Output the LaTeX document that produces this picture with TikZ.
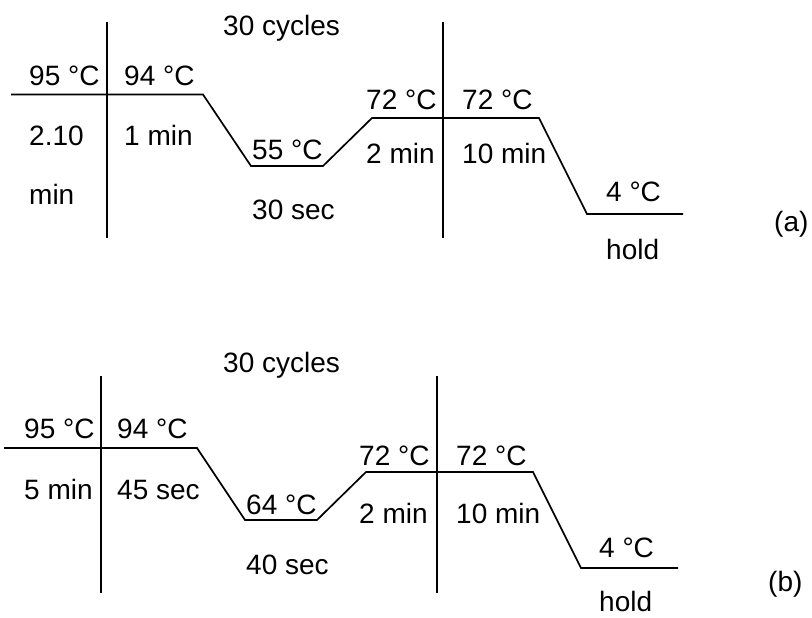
\documentclass[tikz,border=0pt]{standalone}
\usepackage{fontspec}
\setmainfont{Liberation Sans}
\begin{document}
\begin{tikzpicture}[x=1pt,y=-1pt,
  lbl/.style={inner sep=0pt,anchor=base west,font=\fontsize{28}{31}\selectfont},
  prof/.style={line width=1.7pt,line join=miter},
  sep/.style={line width=1.7pt}]
\useasboundingbox (0,0) rectangle (812,618);
% ---------- (a) ----------
\coordinate (a0) at (11,94.5);
\coordinate (a1) at (203,94.5);
\coordinate (a2) at (251,166);
\coordinate (a3) at (323,166);
\coordinate (a4) at (372,118);
\coordinate (a5) at (539,118);
\coordinate (a6) at (587,214);
\coordinate (a7) at (683,214);
\coordinate (av1t) at (107,22);
\coordinate (av1b) at (107,238);
\coordinate (av2t) at (443,22);
\coordinate (av2b) at (443,238);
\draw[prof] (a0) -- (a1) -- (a2) -- (a3) -- (a4) -- (a5) -- (a6) -- (a7);
\draw[sep] (av1t) -- (av1b);
\draw[sep] (av2t) -- (av2b);
\node[lbl] (acyc) at (223,36) {30 cycles};
\node[lbl] (a95) at (29,86) {95 °C};
\node[lbl] (a94) at (124,86) {94 °C};
\node[lbl] (a210) at (29,146) {2.10};
\node[lbl] (amin) at (29,204) {min};
\node[lbl] (a1min) at (124,146) {1 min};
\node[lbl] (a55) at (252,159) {55 °C};
\node[lbl] (a30s) at (252,219) {30 sec};
\node[lbl] (a72a) at (366,110) {72 °C};
\node[lbl] (a72b) at (462,110) {72 °C};
\node[lbl] (a2min) at (366,164) {2 min};
\node[lbl] (a10min) at (462,164) {10 min};
\node[lbl] (a4c) at (606,201) {4 °C};
\node[lbl] (ahold) at (606,259) {hold};
\node[lbl] (alab) at (774,231) {(a)};
% ---------- (b) ----------
\coordinate (b0) at (4,448);
\coordinate (b1) at (197,448);
\coordinate (b2) at (245,520);
\coordinate (b3) at (317,520);
\coordinate (b4) at (366,472);
\coordinate (b5) at (533,472);
\coordinate (b6) at (581,568);
\coordinate (b7) at (678,568);
\coordinate (bv1t) at (101,376);
\coordinate (bv1b) at (101,593);
\coordinate (bv2t) at (437,376);
\coordinate (bv2b) at (437,593);
\draw[prof] (b0) -- (b1) -- (b2) -- (b3) -- (b4) -- (b5) -- (b6) -- (b7);
\draw[sep] (bv1t) -- (bv1b);
\draw[sep] (bv2t) -- (bv2b);
\node[lbl] (bcyc) at (223,372) {30 cycles};
\node[lbl] (b95) at (24,438) {95 °C};
\node[lbl] (b94) at (117,438) {94 °C};
\node[lbl] (b5min) at (24,499) {5 min};
\node[lbl] (b45s) at (117,499) {45 sec};
\node[lbl] (b64) at (246,514) {64 °C};
\node[lbl] (b40s) at (246,574) {40 sec};
\node[lbl] (b72a) at (359,465) {72 °C};
\node[lbl] (b72b) at (456,465) {72 °C};
\node[lbl] (b2min) at (359,523) {2 min};
\node[lbl] (b10min) at (456,523) {10 min};
\node[lbl] (b4c) at (599,557) {4 °C};
\node[lbl] (bhold) at (599,611) {hold};
\node[lbl] (blab) at (768,591) {(b)};
\end{tikzpicture}
\end{document}
